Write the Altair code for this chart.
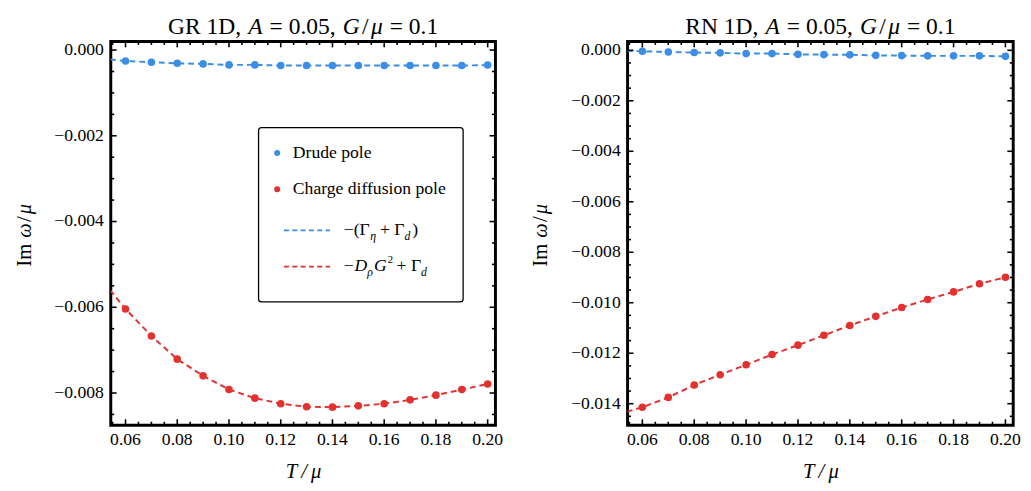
import altair as alt
import pandas as pd

# ---------------- data ----------------
T = [0.06, 0.07, 0.08, 0.09, 0.10, 0.11, 0.12, 0.13, 0.14, 0.15, 0.16, 0.17, 0.18, 0.19, 0.20]

gr_drude = [-0.000254, -0.000285, -0.000308, -0.000323, -0.000346, -0.000346, -0.000362, -0.000362,
            -0.000362, -0.000362, -0.000362, -0.000362, -0.000362, -0.000362, -0.000350]
gr_charge = [-0.00604, -0.00667, -0.00721, -0.00760, -0.00792, -0.00812, -0.00825, -0.00832,
             -0.00833, -0.00830, -0.00825, -0.00816, -0.00805, -0.00792, -0.00779]

rn_drude = [-0.00004, -0.000065, -0.00009, -0.00010, -0.00013, -0.00013, -0.00016, -0.00017,
            -0.00018, -0.00020, -0.00021, -0.00022, -0.00022, -0.00022, -0.00024]
rn_charge = [-0.01414, -0.01375, -0.01326, -0.01285, -0.01246, -0.01205, -0.01168, -0.01129,
             -0.01090, -0.01054, -0.01019, -0.00987, -0.00957, -0.00925, -0.00899]

# analytic curves, starting at the left frame edge
T_fit = [0.054] + T
gr_drude_fit = [-0.00022] + gr_drude
gr_charge_fit = [-0.00560] + gr_charge
rn_drude_fit = [-0.00002] + rn_drude
rn_charge_fit = [-0.01432] + rn_charge

x_domain = [0.0543, 0.203]
gr_y_domain = [-0.00875, 0.0002]
rn_y_domain = [-0.01485, 0.00035]

x_major = [0.06, 0.08, 0.10, 0.12, 0.14, 0.16, 0.18, 0.20]
x_labels = ["0.06", "0.08", "0.10", "0.12", "0.14", "0.16", "0.18", "0.20"]
x_minor = [0.055, 0.065, 0.07, 0.075, 0.085, 0.09, 0.095, 0.105, 0.11, 0.115, 0.125, 0.13, 0.135,
           0.145, 0.15, 0.155, 0.165, 0.17, 0.175, 0.185, 0.19, 0.195]
gr_y_major = [0.0, -0.002, -0.004, -0.006, -0.008]
gr_y_labels = ["0.000", "−0.002", "−0.004", "−0.006", "−0.008"]
gr_y_minor = [-0.0005, -0.001, -0.0015, -0.0025, -0.003, -0.0035, -0.0045, -0.005, -0.0055,
              -0.0065, -0.007, -0.0075, -0.0085]
rn_y_major = [0.0, -0.002, -0.004, -0.006, -0.008, -0.010, -0.012, -0.014]
rn_y_labels = ["0.000", "−0.002", "−0.004", "−0.006", "−0.008", "−0.010", "−0.012", "−0.014"]
rn_y_minor = [-0.0005, -0.001, -0.0015, -0.0025, -0.003, -0.0035, -0.0045, -0.005, -0.0055,
              -0.0065, -0.007, -0.0075, -0.0085, -0.009, -0.0095, -0.0105, -0.011, -0.0115,
              -0.0125, -0.013, -0.0135, -0.0145]

BLUE = "#3b8de6"
RED = "#e2312f"
FONT = "Liberation Serif"
W, H = 393, 392
RW = 394
TS = "\u2009"

# approximate advance widths (em) of Liberation Serif, used to lay out mixed-style text
REG = {"G": .722, "R": .667, "N": .722, " ": .25, "1": .5, "D": .722, ",": .25,
       "=": .564, "0": .5, ".": .25, "5": .5, "/": .278, "I": .333, "m": .778}
ITA = {"A": .611, "G": .722, "μ": .5, "ω": .667}


def width(s, st, size):
    tab = ITA if st == "italic" else REG
    return sum(tab.get(c, .5) for c in s) * size


def run(frags, size):
    """frags: (text, style, gap-after in em) -> list of (text, style, offset)"""
    out, pos = [], 0.0
    for s, st, gap in frags:
        out.append((s, st, pos))
        pos += width(s, st, size) + gap * size
    return out, pos


def title_layers(base, name, w, size=24):
    frags = [(name + " 1D,", "normal", .3), ("A", "italic", .3), ("= 0.05,", "normal", .3),
             ("G", "italic", .1), ("/", "normal", .1), ("μ", "italic", .3), ("= 0.1", "normal", 0)]
    pieces, total = run(frags, size)
    x0 = w / 2 - total / 2
    return [base.mark_text(align="left", baseline="alphabetic", font=FONT, fontSize=size,
                           fontStyle=st, color="black").encode(
        x=alt.value(x0 + off), y=alt.value(-8), text=alt.value(s)) for s, st, off in pieces]


def ytitle_layers(base, size=21):
    frags = [("Im", "normal", .3), ("ω", "italic", .1), ("/", "normal", .1), ("μ", "italic", 0)]
    pieces, total = run(frags, size)
    y0 = H / 2 + 2 + total / 2
    return [base.mark_text(align="left", baseline="middle", angle=270, font=FONT, fontSize=size,
                           fontStyle=st, color="black").encode(
        x=alt.value(-88), y=alt.value(y0 - off), text=alt.value(s)) for s, st, off in pieces]


def panel(name, w, ydom, drude, charge, drude_fit, charge_fit, ymaj, ylab, ymin, legend=False):
    xs = alt.Scale(domain=x_domain, nice=False, zero=False)
    ys = alt.Scale(domain=ydom, nice=False, zero=False)
    xaxis = alt.Axis(values=x_major, title=f"T{TS}/{TS}μ", ticks=False, domain=False, labels=False,
                     grid=False, titleFont=FONT, titleFontSize=21, titleFontWeight="normal",
                     titleFontStyle="italic", titleColor="black", titlePadding=36)

    pts = pd.DataFrame({"T": T + T, "v": drude + charge,
                        "s": ["d"] * len(T) + ["c"] * len(T)})
    fit = pd.DataFrame({"T": T_fit + T_fit, "v": drude_fit + charge_fit,
                        "s": ["d"] * len(T_fit) + ["c"] * len(T_fit)})
    cscale = alt.Scale(domain=["d", "c"], range=[BLUE, RED])

    lines = alt.Chart(fit).mark_line(strokeDash=[6, 4], strokeWidth=2, clip=True).encode(
        x=alt.X("T:Q", scale=xs, axis=xaxis),
        y=alt.Y("v:Q", scale=ys, axis=None),
        color=alt.Color("s:N", scale=cscale, legend=None),
        detail="s:N",
    )
    dots = alt.Chart(pts).mark_circle(size=60, opacity=1, clip=True).encode(
        x=alt.X("T:Q", scale=xs, axis=xaxis),
        y=alt.Y("v:Q", scale=ys, axis=None),
        color=alt.Color("s:N", scale=cscale, legend=None),
    )

    layers = [lines, dots]

    # inward ticks on all four sides
    def yticks(vals, L):
        df = pd.DataFrame({"v": vals})
        left = alt.Chart(df).mark_rule(color="black", strokeWidth=1.6).encode(
            y=alt.Y("v:Q", scale=ys, axis=None), x=alt.value(0), x2=alt.value(L))
        right = alt.Chart(df).mark_rule(color="black", strokeWidth=1.6).encode(
            y=alt.Y("v:Q", scale=ys, axis=None), x=alt.value(w), x2=alt.value(w - L))
        return [left, right]

    def xticks(vals, L):
        df = pd.DataFrame({"t": vals})
        bot = alt.Chart(df).mark_rule(color="black", strokeWidth=1.6).encode(
            x=alt.X("t:Q", scale=xs, axis=xaxis), y=alt.value(H), y2=alt.value(H - L))
        top = alt.Chart(df).mark_rule(color="black", strokeWidth=1.6).encode(
            x=alt.X("t:Q", scale=xs, axis=xaxis), y=alt.value(0), y2=alt.value(L))
        return [bot, top]

    layers += yticks(ymaj, 6) + yticks(ymin, 3.5) + xticks(x_major, 6) + xticks(x_minor, 3.5)

    # tick labels
    ylab_df = pd.DataFrame({"v": ymaj, "lab": ylab})
    layers.append(alt.Chart(ylab_df).mark_text(align="right", baseline="middle", font=FONT,
                                                fontSize=18, color="black").encode(
        y=alt.Y("v:Q", scale=ys, axis=None), x=alt.value(-7), text="lab:N"))
    xlab_df = pd.DataFrame({"t": x_major, "lab": x_labels})
    layers.append(alt.Chart(xlab_df).mark_text(align="center", baseline="middle", font=FONT,
                                                fontSize=18, color="black").encode(
        x=alt.X("t:Q", scale=xs, axis=xaxis), y=alt.value(H + 15), text="lab:N"))

    one = pd.DataFrame({"a": [0]})
    base = alt.Chart(one)
    layers += title_layers(base, name, w)
    layers += ytitle_layers(base)

    if legend:
        box = base.mark_rect(fill="white", stroke="black", strokeWidth=1.3, cornerRadius=3).encode(
            x=alt.value(151), x2=alt.value(360), y=alt.value(88), y2=alt.value(266))
        layers.append(box)
        layers.append(base.mark_circle(size=38, color=BLUE, opacity=1).encode(
            x=alt.value(170), y=alt.value(114)))
        layers.append(base.mark_circle(size=38, color=RED, opacity=1).encode(
            x=alt.value(170), y=alt.value(151)))
        layers.append(base.mark_rule(color=BLUE, strokeWidth=1.8, strokeDash=[5, 3.5]).encode(
            x=alt.value(177), x2=alt.value(224), y=alt.value(193)))
        layers.append(base.mark_rule(color=RED, strokeWidth=1.8, strokeDash=[5, 3.5]).encode(
            x=alt.value(177), x2=alt.value(224), y=alt.value(230)))

        def txt(s, x, y, size=18, style="normal"):
            return base.mark_text(align="left", baseline="middle", font=FONT, fontSize=size,
                                  fontStyle=style, color="black").encode(
                x=alt.value(x), y=alt.value(y), text=alt.value(s))

        layers.append(txt("Drude pole", 186, 114))
        layers.append(txt("Charge diffusion pole", 186, 151))
        # −(Γη + Γd)
        y1 = 193
        layers.append(txt("−(Γ", 238, y1))
        layers.append(txt("η", 265, y1 + 6, 12, "italic"))
        layers.append(txt("+ Γ", 275, y1))
        layers.append(txt("d", 300, y1 + 6, 12, "italic"))
        layers.append(txt(")", 308, y1))
        # −DρG² + Γd
        y2 = 230
        layers.append(txt("−", 238, y2))
        layers.append(txt("D", 249, y2, 18, "italic"))
        layers.append(txt("ρ", 262, y2 + 6, 12, "italic"))
        layers.append(txt("G", 269, y2, 18, "italic"))
        layers.append(txt("2", 283, y2 - 7, 11))
        layers.append(txt("+ Γ", 292, y2))
        layers.append(txt("d", 317, y2 + 6, 12, "italic"))

    return alt.layer(*layers).properties(width=w, height=H)


left = panel("GR", W, gr_y_domain, gr_drude, gr_charge, gr_drude_fit, gr_charge_fit,
             gr_y_major, gr_y_labels, gr_y_minor, legend=True)
right = panel("RN", RW, rn_y_domain, rn_drude, rn_charge, rn_drude_fit, rn_charge_fit,
              rn_y_major, rn_y_labels, rn_y_minor)

chart = alt.hconcat(left, right, spacing=24).configure_view(
    stroke="black", strokeWidth=3
).properties(background="white", padding={"left": 4, "top": 0, "right": 0, "bottom": 0})

chart.save("out.html", embed_options={"renderer": "svg", "actions": False})
